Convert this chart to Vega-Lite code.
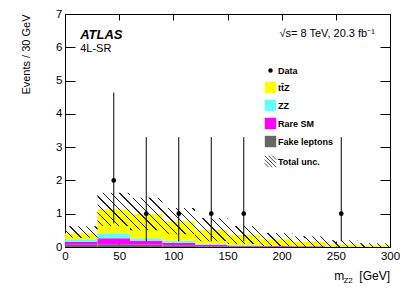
{
  "$schema": "https://vega.github.io/schema/vega-lite/v6.json",
  "width": 325,
  "height": 233,
  "autosize": {"type": "none"},
  "padding": {"left": 65, "top": 14, "right": 21, "bottom": 48},
  "background": "white",
  "config": {
    "font": "Liberation Sans",
    "view": {"stroke": "black", "strokeWidth": 1},
    "axis": {"grid": false, "domain": false, "tickColor": "black", "labelColor": "black", "titleColor": "black", "labelFont": "Liberation Sans", "titleFont": "Liberation Sans"}
  },
  "datasets": {
    "bkg": [
      {"lo": 0, "hi": 30, "process": "Fake leptons", "value": 0.07},
      {"lo": 0, "hi": 30, "process": "Rare SM", "value": 0.09},
      {"lo": 0, "hi": 30, "process": "ZZ", "value": 0.07},
      {"lo": 0, "hi": 30, "process": "tt̄Z", "value": 0.18},
      {"lo": 30, "hi": 60, "process": "Fake leptons", "value": 0.08},
      {"lo": 30, "hi": 60, "process": "Rare SM", "value": 0.18},
      {"lo": 30, "hi": 60, "process": "ZZ", "value": 0.15},
      {"lo": 30, "hi": 60, "process": "tt̄Z", "value": 0.72},
      {"lo": 60, "hi": 90, "process": "Fake leptons", "value": 0.07},
      {"lo": 60, "hi": 90, "process": "Rare SM", "value": 0.12},
      {"lo": 60, "hi": 90, "process": "ZZ", "value": 0.07},
      {"lo": 60, "hi": 90, "process": "tt̄Z", "value": 0.73},
      {"lo": 90, "hi": 120, "process": "Fake leptons", "value": 0.05},
      {"lo": 90, "hi": 120, "process": "Rare SM", "value": 0.08},
      {"lo": 90, "hi": 120, "process": "ZZ", "value": 0.06},
      {"lo": 90, "hi": 120, "process": "tt̄Z", "value": 0.58},
      {"lo": 120, "hi": 150, "process": "Fake leptons", "value": 0.02},
      {"lo": 120, "hi": 150, "process": "Rare SM", "value": 0.05},
      {"lo": 120, "hi": 150, "process": "ZZ", "value": 0.03},
      {"lo": 120, "hi": 150, "process": "tt̄Z", "value": 0.41},
      {"lo": 150, "hi": 180, "process": "Fake leptons", "value": 0.01},
      {"lo": 150, "hi": 180, "process": "Rare SM", "value": 0.03},
      {"lo": 150, "hi": 180, "process": "ZZ", "value": 0.02},
      {"lo": 150, "hi": 180, "process": "tt̄Z", "value": 0.30},
      {"lo": 180, "hi": 210, "process": "Fake leptons", "value": 0.01},
      {"lo": 180, "hi": 210, "process": "Rare SM", "value": 0.02},
      {"lo": 180, "hi": 210, "process": "ZZ", "value": 0.01},
      {"lo": 180, "hi": 210, "process": "tt̄Z", "value": 0.19},
      {"lo": 210, "hi": 240, "process": "Fake leptons", "value": 0.0},
      {"lo": 210, "hi": 240, "process": "Rare SM", "value": 0.02},
      {"lo": 210, "hi": 240, "process": "ZZ", "value": 0.01},
      {"lo": 210, "hi": 240, "process": "tt̄Z", "value": 0.13},
      {"lo": 240, "hi": 270, "process": "Fake leptons", "value": 0.0},
      {"lo": 240, "hi": 270, "process": "Rare SM", "value": 0.01},
      {"lo": 240, "hi": 270, "process": "ZZ", "value": 0.01},
      {"lo": 240, "hi": 270, "process": "tt̄Z", "value": 0.06},
      {"lo": 270, "hi": 300, "process": "Fake leptons", "value": 0.0},
      {"lo": 270, "hi": 300, "process": "Rare SM", "value": 0.01},
      {"lo": 270, "hi": 300, "process": "ZZ", "value": 0.0},
      {"lo": 270, "hi": 300, "process": "tt̄Z", "value": 0.05}
    ],
    "unc": [
      {"x": 0, "ulo": 0.28, "uhi": 0.62},
      {"x": 30, "ulo": 0.63, "uhi": 1.63},
      {"x": 60, "ulo": 0.50, "uhi": 1.48},
      {"x": 90, "ulo": 0.38, "uhi": 1.17},
      {"x": 120, "ulo": 0.17, "uhi": 0.87},
      {"x": 150, "ulo": 0.09, "uhi": 0.63},
      {"x": 180, "ulo": 0.03, "uhi": 0.42},
      {"x": 210, "ulo": 0.0, "uhi": 0.32},
      {"x": 240, "ulo": 0.0, "uhi": 0.20},
      {"x": 270, "ulo": 0.0, "uhi": 0.11},
      {"x": 300, "ulo": 0.0, "uhi": 0.11}
    ],
    "obs": [
      {"x": 45, "n": 2, "elo": 0.71, "ehi": 4.64},
      {"x": 75, "n": 1, "elo": 0.17, "ehi": 3.30},
      {"x": 105, "n": 1, "elo": 0.17, "ehi": 3.30},
      {"x": 135, "n": 1, "elo": 0.17, "ehi": 3.30},
      {"x": 165, "n": 1, "elo": 0.17, "ehi": 3.30},
      {"x": 255, "n": 1, "elo": 0.17, "ehi": 3.30}
    ],
    "one": [{}]
  },
  "resolve": {"axis": {"x": "independent", "y": "independent"}},
  "layer": [
    {
      "data": {"name": "bkg"},
      "transform": [{"stack": "value", "groupby": ["lo"], "as": ["y0", "y1"]}],
      "mark": {"type": "rect"},
      "encoding": {
        "x": {"field": "lo", "type": "quantitative", "scale": {"domain": [0, 300], "nice": false, "zero": false},
          "axis": {"orient": "bottom", "values": [0, 50, 100, 150, 200, 250, 300], "tickSize": -6, "labelPadding": 9, "labelFontSize": 11.5, "labelFlush": false, "title": null}},
        "x2": {"field": "hi"},
        "y": {"field": "y0", "type": "quantitative", "scale": {"domain": [0, 7], "nice": false},
          "axis": {"orient": "left", "values": [0, 1, 2, 3, 4, 5, 6, 7], "tickSize": -10, "labelPadding": 13, "labelFontSize": 11.5,
            "title": "Events / 30 GeV", "titleFontSize": 11, "titleFontWeight": "normal", "titleAnchor": "end", "titlePadding": 24}},
        "y2": {"field": "y1"},
        "color": {"field": "process", "type": "nominal",
          "scale": {"domain": ["Data", "tt̄Z", "ZZ", "Rare SM", "Fake leptons", "Total unc."], "range": ["#000000", "#ffff00", "#66ffff", "#ff00ff", "#666666", "#ffffff"]},
          "legend": {"orient": "none", "legendX": 201, "legendY": 52, "title": null, "padding": 0, "symbolType": "square", "symbolSize": 130, "symbolStrokeWidth": 0,
            "labelFontSize": 9, "labelFontWeight": "bold", "labelFont": "Liberation Sans", "labelColor": "black", "rowPadding": 5, "labelOffset": 3,
            "encode": {"symbols": {"update": {
              "shape": {"signal": "datum.value === 'Data' ? 'circle' : datum.value === 'Total unc.' ? 'M-1,-1L1,1M-0.33,-1L1,0.33M0.33,-1L1,-0.33M-1,-0.33L0.33,1M-1,0.33L-0.33,1' : 'square'"},
              "size": {"signal": "datum.value === 'Data' ? 20 : 130"},
              "strokeWidth": {"signal": "datum.value === 'Total unc.' ? 0.9 : 0"},
              "stroke": {"signal": "datum.value === 'Total unc.' ? '#333' : 'transparent'"},
              "fill": {"signal": "datum.value === 'Total unc.' ? 'transparent' : scale('color', datum.value)"}
            }}}}
        }
      }
    },
    {
      "data": {"name": "unc"},
      "mark": {"type": "area", "interpolate": "step-after", "strokeWidth": 0,
        "fill": {"gradient": "linear", "x1": 0, "y1": 1, "x2": 1.2423, "y2": 0.7926, "stops": [
          {"offset": 0.00, "color": "#222"}, {"offset": 0.003, "color": "#222"}, {"offset": 0.003, "color": "rgba(34,34,34,0)"}, {"offset": 0.02, "color": "rgba(34,34,34,0)"},
          {"offset": 0.02, "color": "#222"}, {"offset": 0.023, "color": "#222"}, {"offset": 0.023, "color": "rgba(34,34,34,0)"}, {"offset": 0.04, "color": "rgba(34,34,34,0)"},
          {"offset": 0.04, "color": "#222"}, {"offset": 0.043, "color": "#222"}, {"offset": 0.043, "color": "rgba(34,34,34,0)"}, {"offset": 0.06, "color": "rgba(34,34,34,0)"},
          {"offset": 0.06, "color": "#222"}, {"offset": 0.063, "color": "#222"}, {"offset": 0.063, "color": "rgba(34,34,34,0)"}, {"offset": 0.08, "color": "rgba(34,34,34,0)"},
          {"offset": 0.08, "color": "#222"}, {"offset": 0.083, "color": "#222"}, {"offset": 0.083, "color": "rgba(34,34,34,0)"}, {"offset": 0.10, "color": "rgba(34,34,34,0)"},
          {"offset": 0.10, "color": "#222"}, {"offset": 0.103, "color": "#222"}, {"offset": 0.103, "color": "rgba(34,34,34,0)"}, {"offset": 0.12, "color": "rgba(34,34,34,0)"},
          {"offset": 0.12, "color": "#222"}, {"offset": 0.123, "color": "#222"}, {"offset": 0.123, "color": "rgba(34,34,34,0)"}, {"offset": 0.14, "color": "rgba(34,34,34,0)"},
          {"offset": 0.14, "color": "#222"}, {"offset": 0.143, "color": "#222"}, {"offset": 0.143, "color": "rgba(34,34,34,0)"}, {"offset": 0.16, "color": "rgba(34,34,34,0)"},
          {"offset": 0.16, "color": "#222"}, {"offset": 0.163, "color": "#222"}, {"offset": 0.163, "color": "rgba(34,34,34,0)"}, {"offset": 0.18, "color": "rgba(34,34,34,0)"},
          {"offset": 0.18, "color": "#222"}, {"offset": 0.183, "color": "#222"}, {"offset": 0.183, "color": "rgba(34,34,34,0)"}, {"offset": 0.20, "color": "rgba(34,34,34,0)"},
          {"offset": 0.20, "color": "#222"}, {"offset": 0.203, "color": "#222"}, {"offset": 0.203, "color": "rgba(34,34,34,0)"}, {"offset": 0.22, "color": "rgba(34,34,34,0)"},
          {"offset": 0.22, "color": "#222"}, {"offset": 0.223, "color": "#222"}, {"offset": 0.223, "color": "rgba(34,34,34,0)"}, {"offset": 0.24, "color": "rgba(34,34,34,0)"},
          {"offset": 0.24, "color": "#222"}, {"offset": 0.243, "color": "#222"}, {"offset": 0.243, "color": "rgba(34,34,34,0)"}, {"offset": 0.26, "color": "rgba(34,34,34,0)"},
          {"offset": 0.26, "color": "#222"}, {"offset": 0.263, "color": "#222"}, {"offset": 0.263, "color": "rgba(34,34,34,0)"}, {"offset": 0.28, "color": "rgba(34,34,34,0)"},
          {"offset": 0.28, "color": "#222"}, {"offset": 0.283, "color": "#222"}, {"offset": 0.283, "color": "rgba(34,34,34,0)"}, {"offset": 0.30, "color": "rgba(34,34,34,0)"},
          {"offset": 0.30, "color": "#222"}, {"offset": 0.303, "color": "#222"}, {"offset": 0.303, "color": "rgba(34,34,34,0)"}, {"offset": 0.32, "color": "rgba(34,34,34,0)"},
          {"offset": 0.32, "color": "#222"}, {"offset": 0.323, "color": "#222"}, {"offset": 0.323, "color": "rgba(34,34,34,0)"}, {"offset": 0.34, "color": "rgba(34,34,34,0)"},
          {"offset": 0.34, "color": "#222"}, {"offset": 0.343, "color": "#222"}, {"offset": 0.343, "color": "rgba(34,34,34,0)"}, {"offset": 0.36, "color": "rgba(34,34,34,0)"},
          {"offset": 0.36, "color": "#222"}, {"offset": 0.363, "color": "#222"}, {"offset": 0.363, "color": "rgba(34,34,34,0)"}, {"offset": 0.38, "color": "rgba(34,34,34,0)"},
          {"offset": 0.38, "color": "#222"}, {"offset": 0.383, "color": "#222"}, {"offset": 0.383, "color": "rgba(34,34,34,0)"}, {"offset": 0.40, "color": "rgba(34,34,34,0)"},
          {"offset": 0.40, "color": "#222"}, {"offset": 0.403, "color": "#222"}, {"offset": 0.403, "color": "rgba(34,34,34,0)"}, {"offset": 0.42, "color": "rgba(34,34,34,0)"},
          {"offset": 0.42, "color": "#222"}, {"offset": 0.423, "color": "#222"}, {"offset": 0.423, "color": "rgba(34,34,34,0)"}, {"offset": 0.44, "color": "rgba(34,34,34,0)"},
          {"offset": 0.44, "color": "#222"}, {"offset": 0.443, "color": "#222"}, {"offset": 0.443, "color": "rgba(34,34,34,0)"}, {"offset": 0.46, "color": "rgba(34,34,34,0)"},
          {"offset": 0.46, "color": "#222"}, {"offset": 0.463, "color": "#222"}, {"offset": 0.463, "color": "rgba(34,34,34,0)"}, {"offset": 0.48, "color": "rgba(34,34,34,0)"},
          {"offset": 0.48, "color": "#222"}, {"offset": 0.483, "color": "#222"}, {"offset": 0.483, "color": "rgba(34,34,34,0)"}, {"offset": 0.50, "color": "rgba(34,34,34,0)"},
          {"offset": 0.50, "color": "#222"}, {"offset": 0.503, "color": "#222"}, {"offset": 0.503, "color": "rgba(34,34,34,0)"}, {"offset": 0.52, "color": "rgba(34,34,34,0)"},
          {"offset": 0.52, "color": "#222"}, {"offset": 0.523, "color": "#222"}, {"offset": 0.523, "color": "rgba(34,34,34,0)"}, {"offset": 0.54, "color": "rgba(34,34,34,0)"},
          {"offset": 0.54, "color": "#222"}, {"offset": 0.543, "color": "#222"}, {"offset": 0.543, "color": "rgba(34,34,34,0)"}, {"offset": 0.56, "color": "rgba(34,34,34,0)"},
          {"offset": 0.56, "color": "#222"}, {"offset": 0.563, "color": "#222"}, {"offset": 0.563, "color": "rgba(34,34,34,0)"}, {"offset": 0.58, "color": "rgba(34,34,34,0)"},
          {"offset": 0.58, "color": "#222"}, {"offset": 0.583, "color": "#222"}, {"offset": 0.583, "color": "rgba(34,34,34,0)"}, {"offset": 0.60, "color": "rgba(34,34,34,0)"},
          {"offset": 0.60, "color": "#222"}, {"offset": 0.603, "color": "#222"}, {"offset": 0.603, "color": "rgba(34,34,34,0)"}, {"offset": 0.62, "color": "rgba(34,34,34,0)"},
          {"offset": 0.62, "color": "#222"}, {"offset": 0.623, "color": "#222"}, {"offset": 0.623, "color": "rgba(34,34,34,0)"}, {"offset": 0.64, "color": "rgba(34,34,34,0)"},
          {"offset": 0.64, "color": "#222"}, {"offset": 0.643, "color": "#222"}, {"offset": 0.643, "color": "rgba(34,34,34,0)"}, {"offset": 0.66, "color": "rgba(34,34,34,0)"},
          {"offset": 0.66, "color": "#222"}, {"offset": 0.663, "color": "#222"}, {"offset": 0.663, "color": "rgba(34,34,34,0)"}, {"offset": 0.68, "color": "rgba(34,34,34,0)"},
          {"offset": 0.68, "color": "#222"}, {"offset": 0.683, "color": "#222"}, {"offset": 0.683, "color": "rgba(34,34,34,0)"}, {"offset": 0.70, "color": "rgba(34,34,34,0)"},
          {"offset": 0.70, "color": "#222"}, {"offset": 0.703, "color": "#222"}, {"offset": 0.703, "color": "rgba(34,34,34,0)"}, {"offset": 0.72, "color": "rgba(34,34,34,0)"},
          {"offset": 0.72, "color": "#222"}, {"offset": 0.723, "color": "#222"}, {"offset": 0.723, "color": "rgba(34,34,34,0)"}, {"offset": 0.74, "color": "rgba(34,34,34,0)"},
          {"offset": 0.74, "color": "#222"}, {"offset": 0.743, "color": "#222"}, {"offset": 0.743, "color": "rgba(34,34,34,0)"}, {"offset": 0.76, "color": "rgba(34,34,34,0)"},
          {"offset": 0.76, "color": "#222"}, {"offset": 0.763, "color": "#222"}, {"offset": 0.763, "color": "rgba(34,34,34,0)"}, {"offset": 0.78, "color": "rgba(34,34,34,0)"},
          {"offset": 0.78, "color": "#222"}, {"offset": 0.783, "color": "#222"}, {"offset": 0.783, "color": "rgba(34,34,34,0)"}, {"offset": 0.80, "color": "rgba(34,34,34,0)"},
          {"offset": 0.80, "color": "#222"}, {"offset": 0.803, "color": "#222"}, {"offset": 0.803, "color": "rgba(34,34,34,0)"}, {"offset": 0.82, "color": "rgba(34,34,34,0)"},
          {"offset": 0.82, "color": "#222"}, {"offset": 0.823, "color": "#222"}, {"offset": 0.823, "color": "rgba(34,34,34,0)"}, {"offset": 0.84, "color": "rgba(34,34,34,0)"},
          {"offset": 0.84, "color": "#222"}, {"offset": 0.843, "color": "#222"}, {"offset": 0.843, "color": "rgba(34,34,34,0)"}, {"offset": 0.86, "color": "rgba(34,34,34,0)"},
          {"offset": 0.86, "color": "#222"}, {"offset": 0.863, "color": "#222"}, {"offset": 0.863, "color": "rgba(34,34,34,0)"}, {"offset": 0.88, "color": "rgba(34,34,34,0)"},
          {"offset": 0.88, "color": "#222"}, {"offset": 0.883, "color": "#222"}, {"offset": 0.883, "color": "rgba(34,34,34,0)"}, {"offset": 0.90, "color": "rgba(34,34,34,0)"},
          {"offset": 0.90, "color": "#222"}, {"offset": 0.903, "color": "#222"}, {"offset": 0.903, "color": "rgba(34,34,34,0)"}, {"offset": 0.92, "color": "rgba(34,34,34,0)"},
          {"offset": 0.92, "color": "#222"}, {"offset": 0.923, "color": "#222"}, {"offset": 0.923, "color": "rgba(34,34,34,0)"}, {"offset": 1.0, "color": "rgba(34,34,34,0)"}
        ]}},
      "encoding": {
        "x": {"field": "x", "type": "quantitative", "axis": null},
        "y": {"field": "ulo", "type": "quantitative", "axis": null},
        "y2": {"field": "uhi"}
      }
    },
    {
      "data": {"name": "obs"},
      "mark": {"type": "rule", "color": "black", "strokeWidth": 1},
      "encoding": {
        "x": {"field": "x", "type": "quantitative",
          "axis": {"orient": "top", "values": [0, 50, 100, 150, 200, 250, 300], "tickSize": -6, "labels": false, "title": null}},
        "y": {"field": "elo", "type": "quantitative",
          "axis": {"orient": "right", "values": [0, 1, 2, 3, 4, 5, 6, 7], "tickSize": -10, "labels": false, "title": null}},
        "y2": {"field": "ehi"}
      }
    },
    {
      "data": {"name": "obs"},
      "mark": {"type": "point", "filled": true, "color": "black", "size": 22, "opacity": 1},
      "encoding": {
        "x": {"field": "x", "type": "quantitative", "axis": null},
        "y": {"field": "n", "type": "quantitative", "axis": null}
      }
    },
    {
      "data": {"name": "one"},
      "mark": {"type": "text", "text": "ATLAS", "fontWeight": "bold", "fontStyle": "italic", "fontSize": 13, "align": "left", "baseline": "alphabetic", "color": "black"},
      "encoding": {"x": {"datum": 14, "type": "quantitative", "axis": null}, "y": {"datum": 6.25, "type": "quantitative", "axis": null}}
    },
    {
      "data": {"name": "one"},
      "mark": {"type": "text", "text": "4L-SR", "fontSize": 11, "align": "left", "baseline": "alphabetic", "color": "black"},
      "encoding": {"x": {"datum": 14, "type": "quantitative", "axis": null}, "y": {"datum": 5.87, "type": "quantitative", "axis": null}}
    },
    {
      "data": {"name": "one"},
      "mark": {"type": "text", "text": "√s= 8 TeV, 20.3 fb⁻¹", "fontSize": 11, "align": "right", "baseline": "alphabetic", "color": "black"},
      "encoding": {"x": {"datum": 286, "type": "quantitative", "axis": null}, "y": {"datum": 6.31, "type": "quantitative", "axis": null}}
    },
    {
      "data": {"name": "one"},
      "mark": {"type": "text", "text": "m", "fontSize": 12, "align": "left", "baseline": "alphabetic", "color": "black"},
      "encoding": {"x": {"datum": 248.5, "type": "quantitative", "axis": null}, "y": {"datum": -0.99, "type": "quantitative", "axis": null}}
    },
    {
      "data": {"name": "one"},
      "mark": {"type": "text", "text": "Z2", "fontSize": 8, "align": "left", "baseline": "alphabetic", "color": "black"},
      "encoding": {"x": {"datum": 257, "type": "quantitative", "axis": null}, "y": {"datum": -1.08, "type": "quantitative", "axis": null}}
    },
    {
      "data": {"name": "one"},
      "mark": {"type": "text", "text": "[GeV]", "fontSize": 12, "align": "right", "baseline": "alphabetic", "color": "black"},
      "encoding": {"x": {"datum": 300, "type": "quantitative", "axis": null}, "y": {"datum": -0.99, "type": "quantitative", "axis": null}}
    }
  ]
}
